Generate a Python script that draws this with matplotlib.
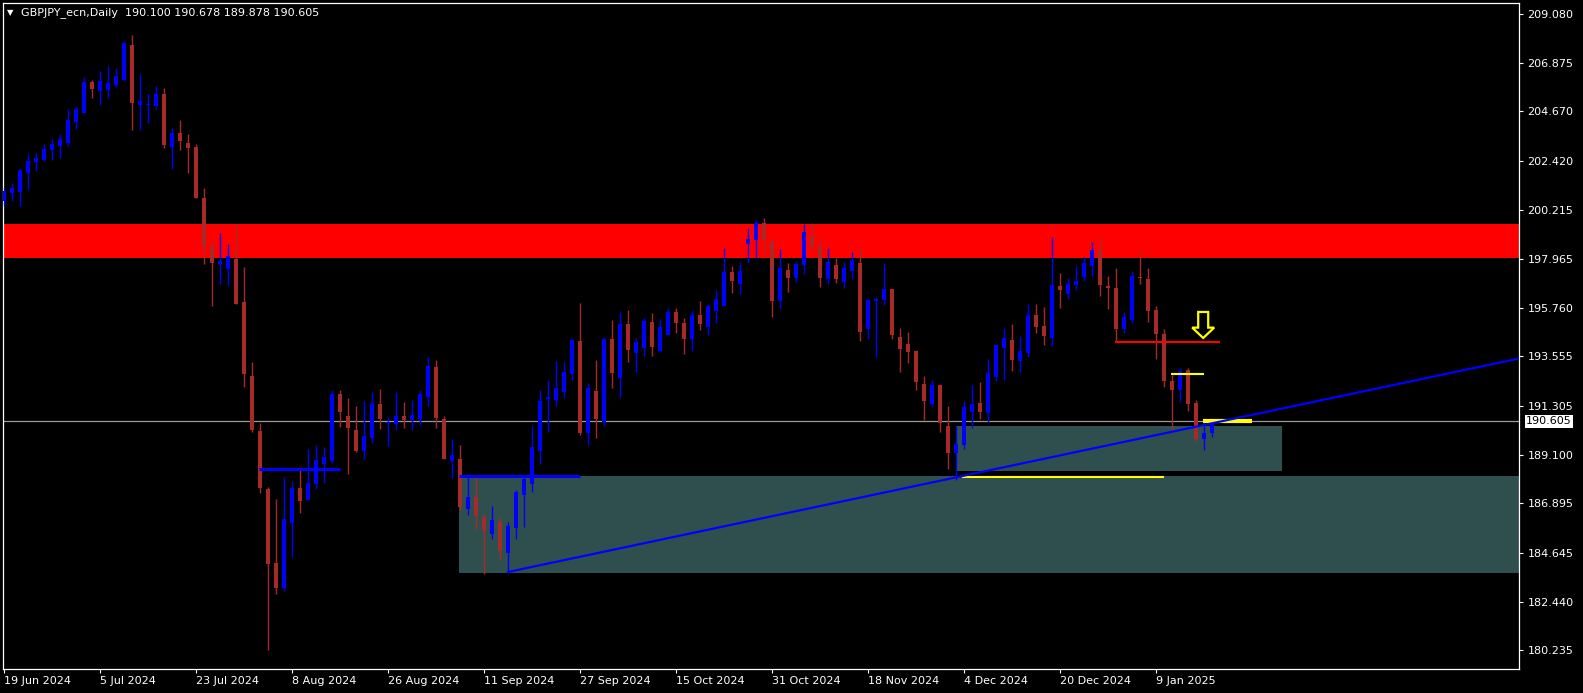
import matplotlib
matplotlib.use('Agg')
import matplotlib.pyplot as plt
import matplotlib.transforms as mtransforms
from matplotlib.patches import Rectangle, Polygon

# daily GBPJPY candles, 19 Jun 2024 .. 20 Jan 2025
opens = [200.60, 200.98, 201.03, 201.86, 202.39, 202.48, 202.93, 203.11, 203.25, 204.20,
         204.61, 206.00, 205.61, 205.65, 205.87, 206.09, 207.68, 204.97, 204.95, 204.93,
         205.46, 203.05, 203.69, 203.23, 203.05, 200.74, 198.58, 197.75, 197.52, 197.97,
         196.02, 192.67, 190.17, 187.54, 184.19, 183.07, 186.00, 187.59, 187.06, 187.78,
         188.69, 188.81, 191.85, 190.85, 190.22, 189.27, 189.87, 191.40, 190.52, 190.50,
         190.85, 190.67, 190.72, 191.72, 193.08, 190.72, 188.81, 188.90, 186.64, 187.18,
         186.27, 185.50, 186.05, 184.64, 185.77, 187.27, 187.77, 189.27, 191.63, 191.58,
         191.94, 192.77, 194.25, 190.08, 191.99, 190.58, 194.35, 192.58, 195.03, 193.71,
         193.94, 195.12, 193.80, 194.53, 195.57, 195.07, 194.35, 195.43, 194.89, 195.62,
         195.84, 197.38, 196.84, 198.67, 198.84, 199.61, 198.74, 196.07, 197.48, 197.11,
         197.70, 198.97, 198.56, 197.07, 197.70, 196.93, 197.43, 197.79, 194.80, 196.06,
         196.11, 196.61, 194.44, 194.12, 193.80, 192.31, 191.40, 192.26, 190.40, 189.18,
         189.54, 191.04, 191.44, 190.99, 192.62, 193.94, 194.30, 193.35, 193.71, 195.43,
         194.94, 194.39, 196.75, 196.39, 196.79, 197.16, 197.66, 198.34, 196.75, 196.66,
         194.80, 195.21, 197.16, 197.07, 195.66, 194.57, 192.44, 192.03, 192.94, 191.44,
         189.81, 190.100]
highs = [201.18, 201.43, 202.09, 202.74, 202.79, 203.19, 203.42, 203.64, 204.78, 204.91,
         206.24, 206.09, 206.50, 206.74, 206.64, 207.86, 208.13, 206.36, 205.46, 205.82,
         205.73, 203.91, 204.28, 203.64, 203.19, 201.19, 198.80, 199.15, 198.65, 199.52,
         197.61, 193.30, 190.54, 187.63, 187.09, 188.09, 187.91, 188.40, 189.36, 189.54,
         189.45, 192.03, 192.03, 191.67, 191.31, 191.54, 191.94, 192.08, 190.81, 191.94,
         191.49, 191.58, 192.03, 193.53, 193.39, 190.85, 189.81, 189.54, 188.13, 188.09,
         186.41, 186.77, 186.23, 186.05, 187.50, 188.09, 190.40, 192.03, 192.49, 193.35,
         193.30, 194.39, 195.98, 192.35, 193.39, 194.44, 195.21, 195.57, 195.66, 194.39,
         195.30, 195.53, 195.25, 195.75, 195.75, 195.30, 195.62, 196.07, 195.93, 196.57,
         198.47, 197.66, 197.84, 199.38, 199.74, 199.83, 198.93, 198.43, 197.79, 197.88,
         199.56, 199.61, 198.97, 198.47, 198.02, 197.84, 198.29, 198.43, 196.20, 196.25,
         197.79, 196.61, 194.85, 194.66, 193.85, 192.67, 192.49, 192.31, 191.31, 190.40,
         191.53, 192.26, 192.40, 193.44, 194.12, 194.85, 195.03, 194.48, 195.93, 195.93,
         195.80, 198.97, 197.34, 197.11, 197.66, 198.07, 198.74, 198.97, 197.20, 197.57,
         195.57, 197.43, 198.29, 197.57, 195.84, 194.80, 192.71, 193.03, 193.03, 191.58,
         190.54, 190.678]
lows = [200.38, 200.60, 200.39, 201.13, 201.96, 202.43, 202.46, 202.57, 203.11, 203.88,
        204.61, 205.29, 204.97, 205.29, 205.77, 206.05, 203.84, 203.84, 204.14, 204.78,
        203.02, 202.07, 202.92, 201.87, 200.74, 197.75, 195.86, 196.85, 196.79, 195.95,
        192.18, 190.14, 187.38, 180.25, 182.79, 182.93, 184.47, 186.46, 187.06, 187.54,
        187.83, 188.72, 190.35, 188.22, 189.22, 188.90, 189.64, 190.27, 189.51, 190.22,
        190.31, 190.22, 190.45, 191.31, 190.31, 188.90, 188.04, 186.59, 186.36, 185.68,
        183.69, 185.28, 184.32, 183.78, 185.28, 185.82, 187.41, 188.68, 190.13, 191.31,
        191.72, 192.49, 189.99, 189.54, 189.86, 190.40, 192.12, 191.72, 193.30, 192.85,
        193.58, 193.58, 193.76, 194.53, 194.62, 193.67, 193.80, 194.75, 194.53, 195.07,
        195.84, 196.43, 196.39, 197.79, 198.02, 198.20, 195.34, 195.75, 196.48, 196.93,
        197.29, 198.34, 196.70, 196.84, 196.89, 196.66, 197.07, 194.25, 194.35, 193.53,
        195.89, 194.35, 192.85, 193.26, 192.03, 190.67, 191.26, 190.13, 188.45, 187.95,
        189.36, 190.31, 190.72, 190.58, 192.44, 192.49, 192.89, 192.85, 193.53, 194.62,
        194.07, 194.03, 195.75, 196.16, 196.57, 196.98, 197.20, 196.30, 195.71, 194.21,
        194.62, 195.07, 196.84, 195.12, 193.44, 192.17, 190.22, 191.49, 191.08, 189.72,
        189.31, 189.878]
closes = [201.07, 201.19, 202.01, 202.40, 202.55, 202.96, 203.19, 203.42, 204.28, 204.78,
          206.00, 205.70, 206.05, 205.96, 206.27, 207.77, 205.06, 205.13, 204.97, 205.46,
          203.14, 203.69, 203.33, 203.01, 200.74, 198.58, 197.79, 197.88, 198.11, 195.95,
          192.77, 190.23, 187.60, 184.15, 183.07, 186.18, 187.59, 187.00, 187.82, 188.86,
          188.99, 191.85, 191.04, 190.31, 189.27, 189.95, 191.44, 190.72, 190.58, 190.85,
          190.67, 190.90, 191.85, 193.12, 190.76, 188.90, 189.08, 186.73, 187.18, 186.32,
          185.64, 186.14, 184.73, 185.87, 187.41, 188.00, 189.45, 191.53, 191.72, 192.12,
          192.85, 194.30, 190.08, 192.12, 190.72, 194.35, 192.80, 195.03, 193.85, 194.21,
          195.16, 193.98, 194.89, 195.57, 195.07, 194.35, 195.43, 195.03, 195.84, 196.16,
          197.38, 196.98, 197.43, 198.88, 199.61, 198.84, 196.07, 197.57, 197.11, 197.75,
          199.20, 198.56, 197.11, 197.84, 197.07, 197.57, 197.93, 194.66, 196.11, 196.16,
          196.61, 194.53, 193.89, 193.76, 192.40, 191.53, 192.26, 190.54, 189.18, 189.58,
          191.26, 191.40, 191.04, 192.80, 194.07, 194.39, 193.39, 193.80, 195.43, 194.89,
          194.48, 196.79, 196.57, 196.84, 196.98, 197.79, 198.38, 196.79, 196.66, 194.80,
          195.34, 197.20, 197.11, 195.62, 194.57, 192.44, 192.03, 192.89, 191.40, 189.81,
          190.08, 190.605]

date_ticks = [0, 12, 24, 36, 48, 60, 72, 84, 96, 108, 120, 132, 144]
date_labels = ['19 Jun 2024', '5 Jul 2024', '23 Jul 2024', '8 Aug 2024', '26 Aug 2024',
               '11 Sep 2024', '27 Sep 2024', '15 Oct 2024', '31 Oct 2024', '18 Nov 2024',
               '4 Dec 2024', '20 Dec 2024', '9 Jan 2025']
price_ticks = [209.080, 206.875, 204.670, 202.420, 200.215, 197.965, 195.760,
               193.555, 191.305, 189.100, 186.895, 184.645, 182.440, 180.235]
last_price = 190.605

# drawn objects on the chart
red_zone = (198.02, 199.56)
big_zone = (56.9, 183.73, 188.13)        # left bar, bottom, top
small_zone = (119.0, 159.75, 188.36, 190.40)
blue_levels = [(31.9, 42.0, 188.45), (56.9, 72.0, 188.13)]
yellow_levels = [(119.75, 145.0, 188.10, 1.5), (145.9, 150.0, 192.77, 1.5), (149.9, 156.0, 190.63, 3.0)]
red_level = (138.9, 152.0, 194.23)
trend_start = (63, 183.78)
trend_slope = 0.0766
arrow_x, arrow_top, arrow_neck, arrow_tip = 149.9, 195.57, 194.86, 194.39

W, H = 1583, 693
fig = plt.figure(figsize=(W / 100, H / 100), dpi=100, facecolor='black')
ax = fig.add_axes([3 / W, (H - 669) / H, (1519 - 3) / W, (669 - 3) / H], facecolor='black')
x0, x1 = -0.125, 189.375
ax.set_xlim(x0, x1)
ax.set_ylim(179.38, 209.58)

ax.axhspan(*red_zone, color='#ff0000', lw=0, zorder=1)
ax.add_patch(Rectangle((big_zone[0], big_zone[1]), x1 - big_zone[0], big_zone[2] - big_zone[1],
                       facecolor='#2f4f4f', lw=0, zorder=1))
ax.add_patch(Rectangle((small_zone[0], small_zone[2]), small_zone[1] - small_zone[0],
                       small_zone[3] - small_zone[2], facecolor='#2f4f4f', lw=0, zorder=1))
ax.axhline(last_price, color='#9a9a9a', lw=0.9, zorder=2)

# candles
idx = list(range(len(closes)))
cols = ['#0000ff' if c >= o else '#a52a2a' for o, c in zip(opens, closes)]
ax.vlines(idx, lows, highs, colors=cols, lw=1.0, zorder=3)
bottoms = [min(o, c) for o, c in zip(opens, closes)]
sizes = [max(abs(c - o), 0.06) for o, c in zip(opens, closes)]
ax.bar(idx, sizes, width=0.6, bottom=bottoms, color=cols, lw=0, zorder=4)

# lines
for a, b, y in blue_levels:
    ax.hlines(y, a, b, colors='#0000ff', lw=2.2, zorder=5)
for a, b, y, w in yellow_levels:
    ax.hlines(y, a, b, colors='#ffff00', lw=w, zorder=5)
ax.hlines(red_level[2], red_level[0], red_level[1], colors='#ff0000', lw=1.5, zorder=5)
tx = [trend_start[0], x1]
ty = [trend_start[1], trend_start[1] + trend_slope * (x1 - trend_start[0])]
ax.plot(tx, ty, color='#0000ff', lw=1.6, zorder=6, clip_on=True)

sw, hw = 0.625, 1.375
arrow = Polygon([(arrow_x - sw, arrow_top), (arrow_x + sw, arrow_top), (arrow_x + sw, arrow_neck),
                 (arrow_x + hw, arrow_neck), (arrow_x, arrow_tip), (arrow_x - hw, arrow_neck),
                 (arrow_x - sw, arrow_neck)], closed=True, facecolor='none',
                edgecolor='#ffff00', lw=1.6, zorder=6)
ax.add_patch(arrow)

# axes styling
for s in ax.spines.values():
    s.set_color('white')
    s.set_linewidth(0.9)
ax.yaxis.tick_right()
ax.set_yticks(price_ticks)
ax.set_yticklabels(['%.3f' % p for p in price_ticks])
ax.set_xticks(date_ticks)
ax.set_xticklabels(date_labels)
ax.tick_params(axis='both', colors='white', labelsize=8, length=3, width=0.8, direction='out')
ax.tick_params(axis='y', pad=3)
ax.tick_params(axis='x', pad=2)
for lbl in ax.get_xticklabels():
    lbl.set_ha('left')

trans = mtransforms.blended_transform_factory(ax.transAxes, ax.transData)
ax.text(1.0046, last_price, '%.3f' % last_price, transform=trans, ha='left', va='center',
        fontsize=8, color='black', bbox=dict(boxstyle='square,pad=0.1', fc='white', ec='none'))

fig.text(7 / W, 1 - 13 / H, '\u25bc', color='white', fontsize=6, va='center')
fig.text(21 / W, 1 - 13 / H, 'GBPJPY_ecn,Daily  190.100 190.678 189.878 190.605',
         color='white', fontsize=8, va='center')

fig.savefig('out.png', dpi=100, facecolor='black')
